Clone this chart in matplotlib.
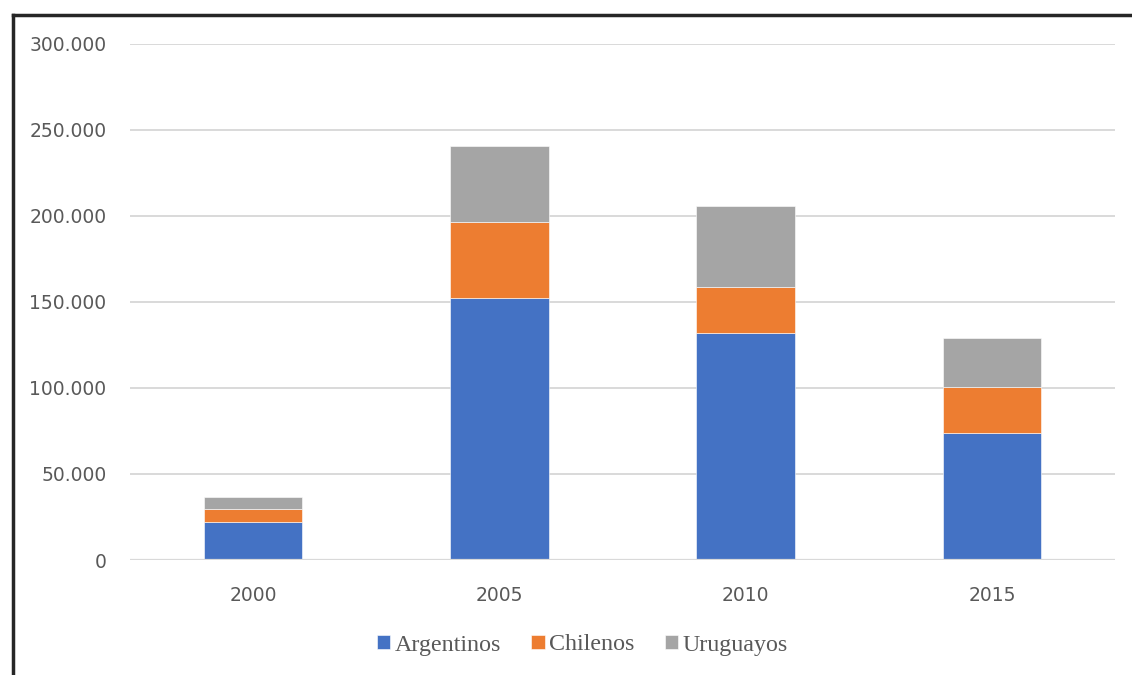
import matplotlib
matplotlib.use("Agg")
import matplotlib.pyplot as plt
from matplotlib.lines import Line2D
from matplotlib.ticker import FuncFormatter
import numpy as np

years = ["2000", "2005", "2010", "2015"]
argentinos = [22100, 152500, 132000, 73800]
chilenos = [7600, 43800, 26500, 26600]
uruguayos = [6900, 44400, 47300, 28500]

series = [
    ("Argentinos", argentinos, "#4472C4"),
    ("Chilenos", chilenos, "#ED7D31"),
    ("Uruguayos", uruguayos, "#A5A5A5"),
]

fig = plt.figure(figsize=(11.32, 6.75), dpi=100)
ax = fig.add_axes([130 / 1132, 1 - 560 / 675, 985 / 1132, (560 - 43.7) / 675])

x = np.arange(len(years))
bottom = np.zeros(len(years))
for name, vals, col in series:
    ax.bar(x, vals, width=0.4, bottom=bottom, color=col, label=name,
           edgecolor="white", linewidth=0.4, zorder=3)
    bottom += np.array(vals)

ax.set_xlim(-0.5, len(years) - 0.5)
ax.set_ylim(0, 300000)
ax.set_yticks(np.arange(0, 300001, 50000))
ax.yaxis.set_major_formatter(FuncFormatter(lambda v, p: f"{int(v):,}".replace(",", ".")))
ax.set_xticks(x)
ax.set_xticklabels(years)
ax.grid(axis="y", color="#d9d9d9", linewidth=1.4, zorder=0)
for s in ax.spines.values():
    s.set_visible(False)
ax.axhline(0, color="#d9d9d9", linewidth=1.6, zorder=4)
ax.tick_params(axis="y", length=0, pad=17, labelsize=13.5, labelcolor="#595959")
ax.tick_params(axis="x", length=0, pad=19, labelsize=13.5, labelcolor="#595959")

leg = fig.legend(loc="center", bbox_to_anchor=(0.5146, 1 - 645 / 675), ncol=3,
                 frameon=False, handlelength=0.55, handleheight=0.55,
                 handletextpad=0.2, columnspacing=1.25,
                 prop={"family": "Liberation Serif", "size": 17.3})
for t in leg.get_texts():
    t.set_color("#595959")

# outer frame (top and left edges)
fig.add_artist(Line2D([12.5 / 1132, 1], [1 - 14.5 / 675] * 2, color="#262626", linewidth=2.5))
fig.add_artist(Line2D([12.5 / 1132] * 2, [0, 1 - 14.5 / 675], color="#262626", linewidth=2.5))

fig.savefig("out.png", dpi=100)
